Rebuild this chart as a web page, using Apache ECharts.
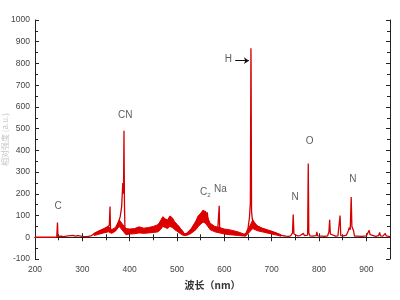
<!DOCTYPE html>
<html><head><meta charset="utf-8">
<script src="https://cdn.jsdelivr.net/npm/echarts@6/dist/echarts.min.js"></script>
<style>html,body{margin:0;padding:0;background:#fff}#c{width:400px;height:300px}</style>
</head><body><div id="c"></div>
<script>
// wavelengths (nm)
const wavelength = [200,240,246,247.5,248.5,255,260,270,280,285,290,300,310,318,322,326,330,334,338,342,346,350,354,357,358.5,359.5,362,365,368,372,376,380,383,385.5,387,388,389,390,392,396,400,404,408,412,416,418,420,423,427,431,435,439,443,447,451,455,459,462,465,468,470,472,475,478,481,484,486,488,491,494,497,500,503,506,509,512,515,518,522,526,530,534,538,541,544,547,550,552,554,556,558,560,562,564,566,568,571,574,577,580,583,586,588,589.2,590,592,596,600,604,608,612,616,620,625,630,635,640,643,646,650,653,655,656.2,656.5,657.5,659,662,666,670,675,680,685,690,695,700,705,710,715,720,725,730,735,740,744,745.5,747,750,755,760,764,767,769,772,776,777.3,778.5,781,786,790,794,795.5,797,805,812,818,821,822.5,824,827,835,840,843,844.5,846,852,858,862,864,866,868,869.5,871,873,875,880,890,900,904,906,908,912,920,926,928,930,935,938,940,942,946,950];
// intensity (a.u.)
const intensity = [0,0,1,68,4,5,3,6,9,5,8,4,3,6,10,18,22,28,24,34,30,40,36,55,142,40,28,22,30,45,65,95,140,250,200,490,150,40,25,32,22,35,25,38,28,45,40,30,35,26,38,30,42,34,46,38,52,45,68,62,88,70,82,60,72,90,98,78,84,60,68,50,55,40,42,28,15,10,15,25,35,45,60,72,85,95,92,110,100,118,105,120,95,115,70,60,55,48,50,40,44,35,40,145,45,30,35,28,32,24,30,22,25,18,15,12,10,12,18,40,90,160,870,800,120,85,65,55,48,45,40,36,32,28,26,22,18,14,10,7,5,4,6,20,105,15,8,6,8,10,18,8,5,10,340,20,6,5,6,8,25,6,5,4,6,25,80,15,6,5,6,10,100,8,6,10,30,45,35,185,50,45,30,5,5,4,6,15,32,12,5,4,8,22,6,5,10,18,6,4,3];
// noise band of the spectrum (lower / upper extent of the fast fluctuations)
const bandWl   = [325,335,345,355,362,370,378,392,400,410,420,430,440,450,460,465,470,475,480,485,490,495,500,505,510,515,520,530,540,545,550,555,560,565,570,580,590,600,610,620,630,640,645,660,665,670,680,690,700,710,720];
const bandLow  = [8,14,20,25,18,28,50,12,15,16,20,18,20,22,25,35,50,45,40,50,45,35,28,20,12,8,8,18,35,50,60,70,65,50,35,25,20,15,12,10,8,6,5,40,35,30,25,20,15,10,5];
const bandHigh = [18,28,40,50,35,45,80,40,38,40,48,42,45,50,58,75,95,85,80,98,90,72,60,48,30,15,18,40,75,100,110,125,118,90,65,50,45,38,35,30,24,16,12,80,65,52,42,35,28,20,10];
// peak annotations: text, wavelength, intensity position
const labelTexts = ['C','CN','{a|C}{s|2}','Na','H','N','O','N'];
const labelX = [248.7,390.5,560,591.6,608.5,749.7,780,871.7];
const labelY = [145,561,207,222,818,183,441,265];
const xTicks = [200,300,400,500,600,700,800,900];

const spectrum = wavelength.map((w,i)=>[w,intensity[i]]);
const labels = labelTexts.map((t,i)=>({value:[labelX[i],labelY[i]],name:t}));

const chart = echarts.init(document.getElementById('c'));
const axisStyle = {lineStyle:{color:'#222',width:1}};
const font = 'Liberation Sans, Arial, sans-serif';
const tickCommon = {
  axisTick:{show:true,inside:true,length:4,lineStyle:{color:'#222'}},
  minorTick:{show:true,splitNumber:2,length:3,lineStyle:{color:'#222'}},
  splitLine:{show:false}
};
chart.setOption({
  animation:false,
  backgroundColor:'#fff',
  grid:{left:35,right:10,top:20,bottom:41,containLabel:false,outerBoundsMode:'none'},
  xAxis:[Object.assign({
    type:'value',min:200,max:950,interval:100,
    axisLine:axisStyle,
    axisLabel:{color:'#444',fontSize:8.5,fontFamily:font,margin:6,
      formatter:v=>xTicks.includes(v)?String(v):''},
    name:'波长（nm）',nameLocation:'middle',nameGap:21,nameMoveOverlap:false,
    nameTextStyle:{color:'#333',fontSize:10,fontWeight:'bold',fontFamily:'Noto Sans CJK SC'}
  },tickCommon),Object.assign({
    type:'value',position:'top',min:200,max:950,interval:100,
    axisLine:axisStyle,axisLabel:{show:false}
  },tickCommon)],
  yAxis:[Object.assign({
    type:'value',min:-100,max:1000,interval:100,
    axisLine:{show:true,lineStyle:{color:'#222'}},
    axisLabel:{color:'#444',fontSize:8.5,fontFamily:font,margin:5,formatter:v=>String(v)},
    name:'相对强度 (a.u.)',nameLocation:'middle',nameGap:26,nameMoveOverlap:false,
    nameTextStyle:{color:'#c8c8c8',fontSize:8,fontFamily:'Noto Sans CJK SC'}
  },tickCommon),Object.assign({
    type:'value',position:'right',min:-100,max:1000,interval:100,
    axisLine:{show:true,lineStyle:{color:'#222'}},axisLabel:{show:false}
  },tickCommon)],
  series:[{
    type:'custom',z:1,silent:true,
    data:[[bandWl[0],bandLow[0]]],
    renderItem:(params,api)=>{
      const pts=[];
      for(let i=0;i<bandWl.length;i++) pts.push(api.coord([bandWl[i],bandHigh[i]]));
      for(let i=bandWl.length-1;i>=0;i--) pts.push(api.coord([bandWl[i],bandLow[i]]));
      return {type:'polygon',shape:{points:pts},style:{fill:'#e00000',stroke:'#e00000',lineWidth:1}};
    }
  },{
    type:'line',data:spectrum,showSymbol:false,symbol:'none',
    lineStyle:{color:'#d40000',width:1.3},z:2
  },{
    type:'scatter',data:labels,symbolSize:0,z:3,
    label:{show:true,position:'inside',formatter:p=>p.name,color:'#333',fontSize:10,fontFamily:font,
      rich:{a:{fontSize:10,color:'#333',fontFamily:font},s:{fontSize:6,color:'#333',fontFamily:font,padding:[6,0,0,0]}}},
    markLine:{silent:true,symbol:['none','arrow'],symbolSize:5,
      lineStyle:{color:'#111',width:1,type:'solid'},label:{show:false},
      data:[[{coord:[623,813]},{coord:[652,813]}]]}
  }]
});
</script></body></html>
